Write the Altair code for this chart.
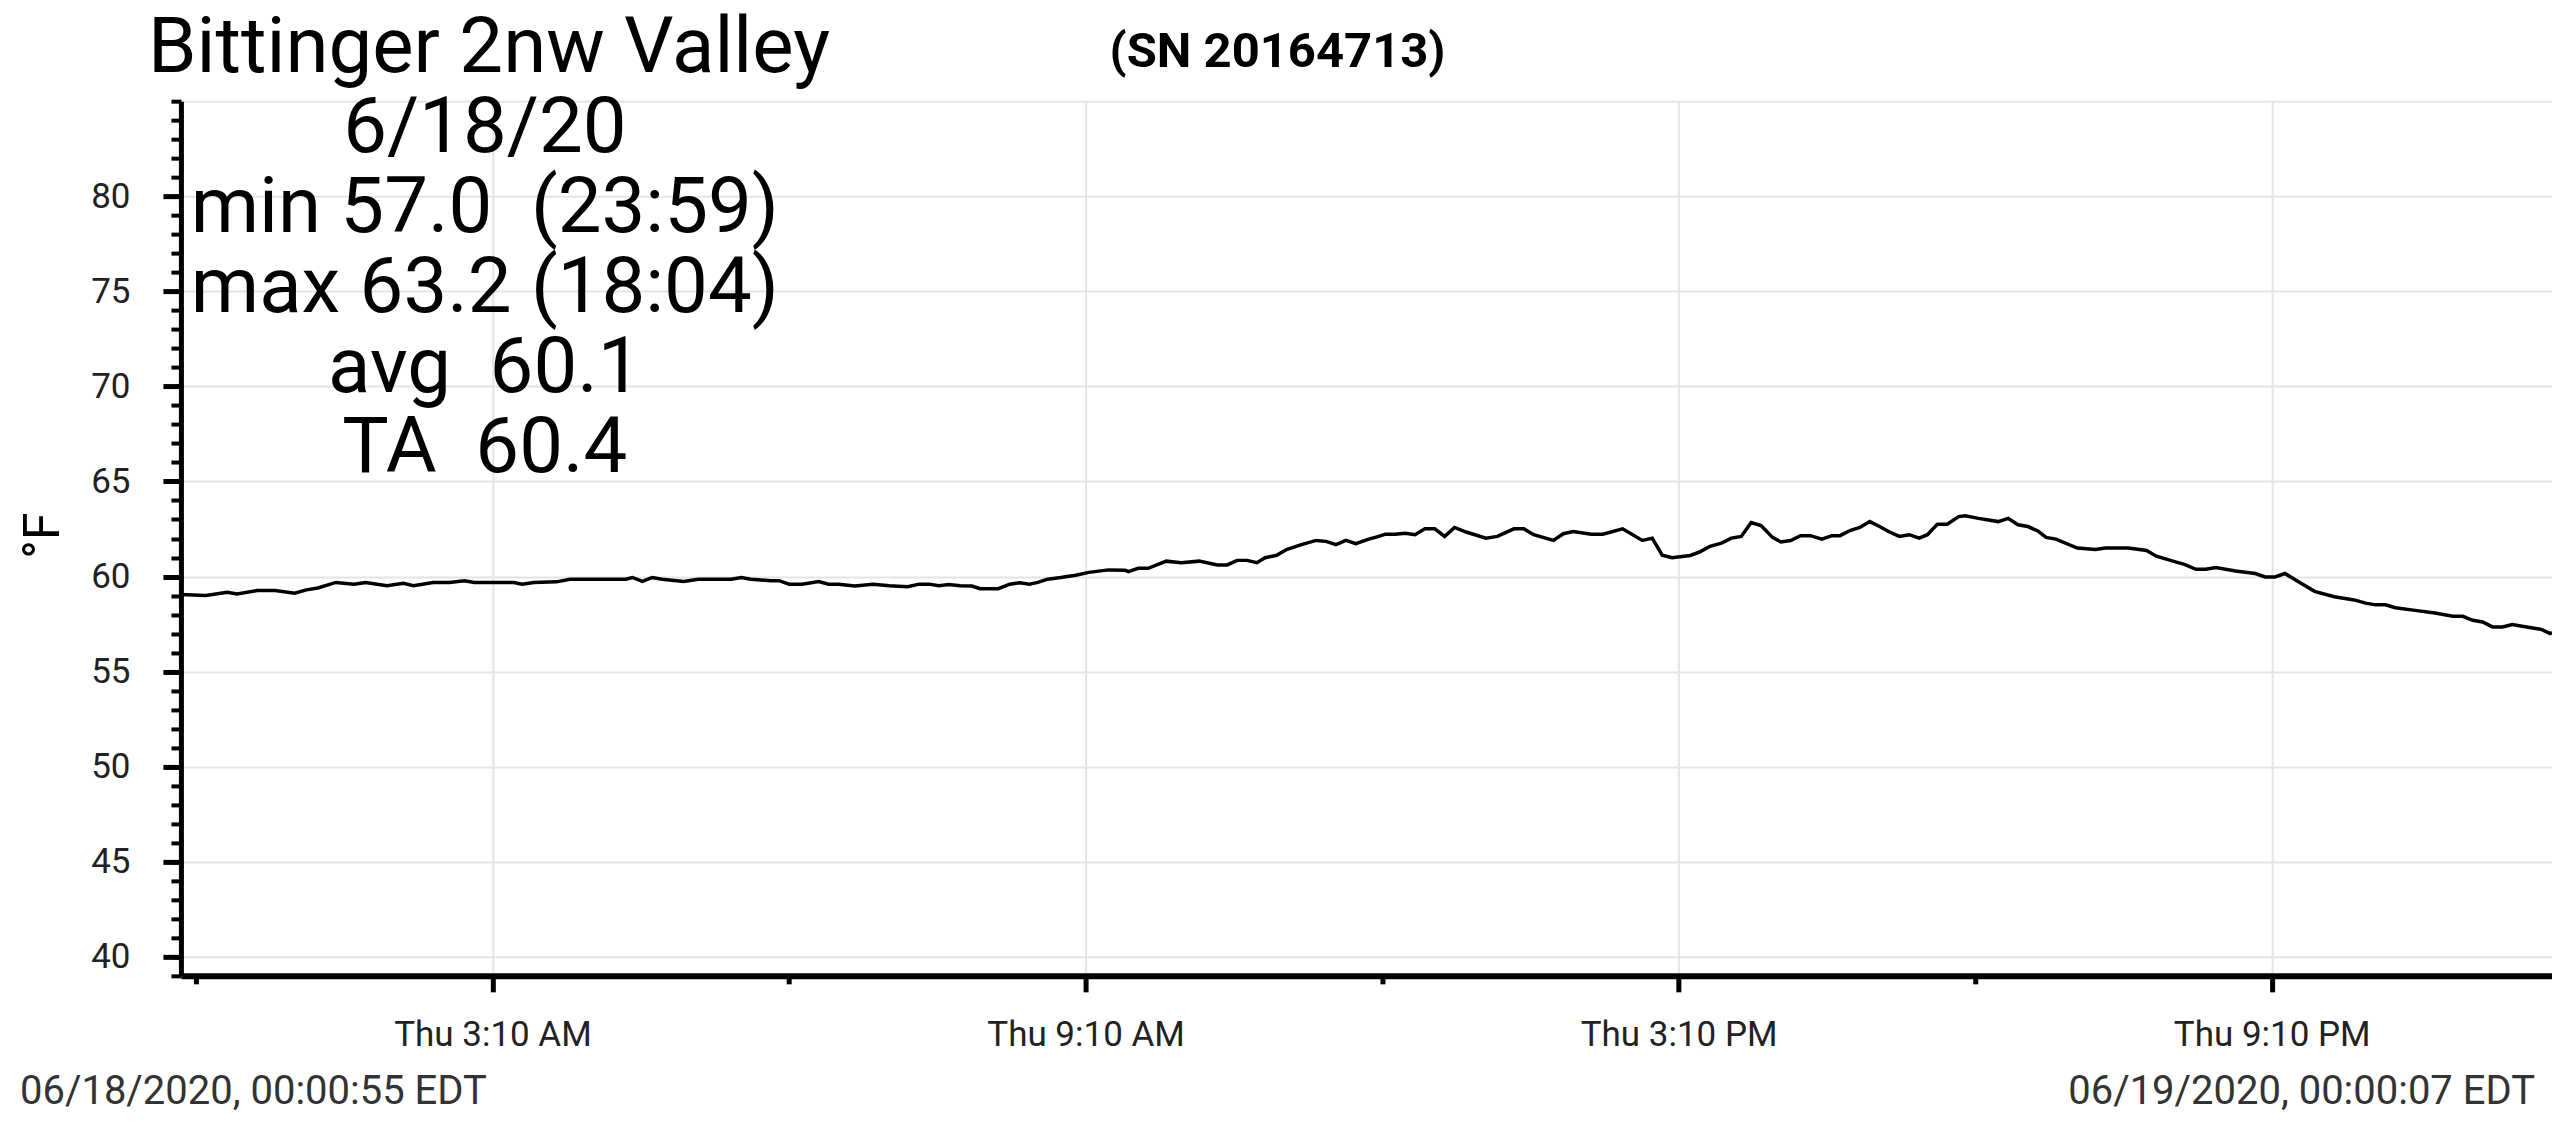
import pandas as pd
import altair as alt

# ---- text shown on the chart
station = "Bittinger 2nw Valley"
serial = "(SN 20164713)"
stats_lines = ["6/18/20", "min 57.0\u00a0 (23:59)", "max 63.2 (18:04)", "avg\u00a0 60.1", "TA\u00a0 60.4"]
start_label = "06/18/2020, 00:00:55 EDT"
end_label = "06/19/2020, 00:00:07 EDT"
y_title = "°F"

# ---- logger series: minutes after midnight 6/18/20, temperature in °F
minutes = [0.92, 16, 29, 35, 47, 58, 70, 77, 84, 95, 106, 113, 126, 136, 142, 154, 164, 173, 179,
           203, 208, 215, 229, 237, 271, 275, 281, 287, 293, 306, 315, 335, 341, 347, 359,
           364, 370, 378, 388, 394, 400, 410, 421, 431, 442, 449, 455, 461, 467, 474, 481, 486,
           497, 504, 510, 516, 521, 527, 535, 544, 552, 564, 574, 576, 582, 588, 599, 608, 619,
           630, 636, 642, 648, 654, 659, 666, 672, 681, 690, 696, 702, 708, 714, 722,
           728, 732, 738, 744, 750, 756, 762, 768, 774, 781, 793, 800, 810, 816, 822, 834, 840,
           846, 857, 864, 876, 888, 894, 900, 906, 917, 923, 929, 936, 942, 948, 954, 960, 967,
           972, 978, 984, 990, 997, 1003, 1008, 1014, 1020, 1026, 1032, 1038, 1044, 1050, 1056,
           1061, 1067, 1073,
           1080, 1084, 1092, 1104, 1110, 1116, 1122, 1128, 1133, 1139, 1152, 1163, 1169, 1183,
           1194, 1200, 1210, 1217, 1224, 1230, 1236, 1248, 1260, 1266, 1272, 1278, 1287, 1296,
           1308, 1320, 1327, 1333, 1339, 1345, 1357, 1369, 1380, 1386, 1392, 1398, 1404, 1410,
           1416, 1422, 1434, 1439, 1440.12]
temps = [59.05, 59.0, 59.17, 59.08, 59.26, 59.26, 59.12, 59.3, 59.4, 59.69, 59.6, 59.69, 59.52,
         59.64, 59.52, 59.69, 59.69, 59.78, 59.69,
         59.69, 59.6, 59.69, 59.72, 59.86, 59.86, 59.95, 59.74, 59.95, 59.86, 59.74, 59.86, 59.86,
         59.95, 59.86, 59.78,
         59.78, 59.6, 59.6, 59.74, 59.6, 59.6, 59.5, 59.6, 59.52, 59.46, 59.6, 59.6, 59.52, 59.58,
         59.52, 59.5, 59.36,
         59.36, 59.6, 59.67, 59.6, 59.69, 59.86, 59.95, 60.07, 60.22, 60.35, 60.33, 60.26, 60.43,
         60.43, 60.81, 60.73, 60.81,
         60.61, 60.61, 60.85, 60.85, 60.73, 60.99, 61.12, 61.42, 61.68, 61.9, 61.85, 61.68, 61.9,
         61.73, 61.97,
         62.11, 62.23, 62.23, 62.28, 62.2, 62.51, 62.51, 62.11, 62.58, 62.34, 62.02, 62.11, 62.51,
         62.51, 62.2, 61.9, 62.25,
         62.37, 62.23, 62.23, 62.51, 61.9, 62.02, 61.12, 60.99, 61.11, 61.3, 61.59, 61.76, 62.02,
         62.11, 62.84, 62.68, 62.06,
         61.82, 61.89, 62.15, 62.15, 61.97, 62.15, 62.15, 62.42, 62.58, 62.89, 62.63, 62.34, 62.11,
         62.2, 62.02,
         62.2, 62.75, 62.75,
         63.15, 63.2, 63.06, 62.89, 63.06, 62.72, 62.63, 62.4, 62.06, 61.97, 61.5, 61.42, 61.5, 61.5,
         61.37, 61.07, 60.81, 60.64, 60.38, 60.38, 60.47, 60.29, 60.16, 59.98, 59.98, 60.16, 59.69,
         59.22,
         58.94, 58.77, 58.6, 58.51, 58.51, 58.36, 58.22, 58.08, 57.91, 57.91, 57.7, 57.61, 57.35,
         57.35,
         57.47, 57.39, 57.21, 57.0, 57.05]

# ---- axis ticks (hour, minute on 6/18/20)
major_ticks = [(3, 10), (9, 10), (15, 10), (21, 10)]
minor_ticks = [(0, 10), (6, 10), (12, 10), (18, 10)]
y_labels = list(range(40, 81, 5))
y_minor = list(range(39, 86))

base = pd.Timestamp("2020-06-18 00:00:00")
df = pd.DataFrame({"time": base + pd.to_timedelta(minutes, unit="min"), "temp": temps})


def when(h, m, s=0, day=18):
    return alt.DateTime(year=2020, month=6, date=day, hours=h, minutes=m, seconds=s)


x_scale = alt.Scale(domain=[when(0, 0, 55), when(0, 0, 7, day=19)])
y_scale = alt.Scale(domain=[39, 85], nice=False, zero=False)

line = alt.Chart(df).mark_line(color="black", strokeWidth=3.5).encode(
    x=alt.X("time:T", scale=x_scale, title=None,
            axis=alt.Axis(orient="bottom", values=[when(h, m) for h, m in major_ticks],
                          format="%a %-I:%M %p", tickSize=16, tickWidth=5, labelPadding=26,
                          labelFontSize=35, labelLimit=600, domainWidth=6, grid=True,
                          labelFlush=False)),
    y=alt.Y("temp:Q", scale=y_scale, title=y_title,
            axis=alt.Axis(orient="left", values=y_labels, tickSize=18, tickWidth=5,
                          labelPadding=33, labelFontSize=35, domainWidth=5, grid=True,
                          titleFontSize=50, titleFontWeight="normal", titleAngle=270,
                          titleBaseline="alphabetic", titleAlign="center",
                          titleX=-122, titleY=434)),
)

minor = alt.Chart(df).mark_point(opacity=0).encode(
    x=alt.X("time:T", scale=x_scale, title=None,
            axis=alt.Axis(orient="bottom", values=[when(h, m) for h, m in minor_ticks],
                          labels=False, tickSize=8, tickWidth=5, domain=False, grid=False)),
    y=alt.Y("temp:Q", scale=y_scale, title=None,
            axis=alt.Axis(orient="left", values=y_minor, labels=False, tickSize=10,
                          tickWidth=4, domain=False, grid=True,
                          gridOpacity={"condition": {"test": "datum.value === 85", "value": 1},
                                       "value": 0})),
)

title_txt = alt.Chart(pd.DataFrame({"t": [station]})).mark_text(
    align="left", baseline="alphabetic", fontSize=78, color="black"
).encode(text="t:N", x=alt.value(-33), y=alt.value(-29))

serial_txt = alt.Chart(pd.DataFrame({"t": [serial]})).mark_text(
    align="left", baseline="alphabetic", fontSize=49, fontWeight="bold", color="black"
).encode(text="t:N", x=alt.value(929), y=alt.value(-34))

stats_txt = alt.Chart(pd.DataFrame({"t": ["\n".join(stats_lines)]})).mark_text(
    align="center", baseline="alphabetic", fontSize=78, lineHeight=80, lineBreak="\n",
    color="black"
).encode(text="t:N", x=alt.value(304), y=alt.value(51))

start_txt = alt.Chart(pd.DataFrame({"t": [start_label]})).mark_text(
    align="left", baseline="alphabetic", fontSize=40, color="#333333"
).encode(text="t:N", x=alt.value(-161), y=alt.value(1003))

end_txt = alt.Chart(pd.DataFrame({"t": [end_label]})).mark_text(
    align="right", baseline="alphabetic", fontSize=40, color="#333333"
).encode(text="t:N", x=alt.value(2355), y=alt.value(1003))

chart = alt.layer(
    minor, line, title_txt, serial_txt, stats_txt, start_txt, end_txt
).resolve_axis(
    x="independent", y="independent"
).properties(
    width=2372, height=875,
    autosize=alt.AutoSizeParams(type="none"),
    padding={"left": 173, "top": 93, "right": 0, "bottom": 140},
).configure(
    font="Roboto"
).configure_axis(
    domainColor="black", tickColor="black", labelColor="#222222", titleColor="black",
    gridColor="#e4e4e4", gridWidth=2, labelFont="Roboto", titleFont="Roboto"
).configure_view(
    stroke=None
)

chart.save("out.html", embed_options={"renderer": "svg", "actions": False})
